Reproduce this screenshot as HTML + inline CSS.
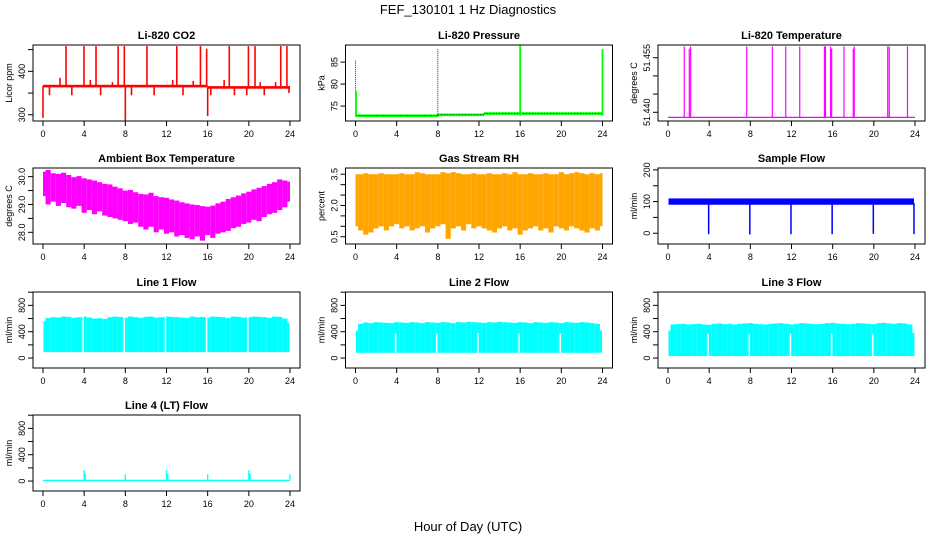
<!DOCTYPE html>
<html><head><meta charset="utf-8"><title>FEF_130101 1 Hz Diagnostics</title>
<style>
html,body{margin:0;padding:0;background:#fff;}
svg{display:block;font-family:"Liberation Sans",Arial,sans-serif;}
</style></head>
<body>
<svg id="chart" width="936" height="540" viewBox="0 0 936 540" xmlns="http://www.w3.org/2000/svg">
<text x="468" y="14" text-anchor="middle" font-size="13">FEF_130101  1 Hz Diagnostics</text>
<text x="468" y="531" text-anchor="middle" font-size="13">Hour of Day (UTC)</text>
</svg>
<script>
const xTicks = [0,4,8,12,16,20,24];

const co2BaseHours = [0,16,16,24];
const co2BaseVals = [366,366,363,363];
const co2SpikeHours = [2.24,3.98,5.15,7.3,7.9,10.1,13.0,15.3,15.9,18.1,19.96,20.6,23.1,23.7,1.65,4.6,6.75,12.6,14.6,17.6,21.1,22.6,0.63,2.8,5.6,8.6,10.8,13.6,16.3,18.6,19.8,21.5,23.9,0.0,8.0,16.0];
const co2SpikeVals = [458,458,458,458,458,458,458,458,452,458,458,458,458,458,385,380,375,380,378,380,375,375,345,345,345,345,345,345,345,345,345,345,350,293,287,297];

const presBaseHours = [0,8,12.5,24];
const presBaseVals = [72.8,73.0,73.3,73.3];
const presSpikeHours = [0.0,0.05,8.0,16.0,24.0];
const presSpikeVals = [85.5,78.5,88.0,89.0,88.0];

const tempBase = 51.4386;
const tempSpikeHours = [1.58,2.07,2.2,7.65,10.14,11.44,12.8,15.2,15.3,15.8,15.9,17.1,18.0,18.1,21.35,21.5,23.27];
const tempSpikeVals = [51.4581,51.4575,51.4581,51.4581,51.4581,51.4581,51.4581,51.4581,51.4581,51.4581,51.4575,51.4581,51.4575,51.4581,51.4581,51.4581,51.4581];

const ambHi = [30.18,30.24,30.12,30.1,30.14,30.06,29.98,30.02,29.94,29.9,29.86,29.8,29.74,29.72,29.64,29.58,29.5,29.52,29.44,29.38,29.36,29.42,29.3,29.26,29.24,29.18,29.14,29.08,29.04,29.0,28.98,28.94,28.92,28.96,29.04,29.1,29.2,29.26,29.32,29.4,29.46,29.54,29.6,29.66,29.74,29.8,29.9,29.86,29.82];
const ambLo = [29.3,29.0,29.1,28.95,29.05,28.9,28.85,28.95,28.7,28.8,28.65,28.75,28.6,28.55,28.5,28.45,28.4,28.3,28.35,28.2,28.1,28.2,28.0,28.1,27.95,28.0,27.85,27.9,27.8,27.75,27.85,27.7,27.9,27.8,27.95,28.0,28.05,28.15,28.2,28.3,28.35,28.45,28.4,28.55,28.65,28.7,28.8,28.9,29.1];

const rhHi = [3.5,3.5,3.55,3.5,3.5,3.55,3.5,3.5,3.5,3.55,3.5,3.5,3.6,3.55,3.5,3.5,3.5,3.6,3.55,3.6,3.55,3.5,3.5,3.55,3.5,3.5,3.55,3.5,3.5,3.55,3.5,3.6,3.5,3.5,3.55,3.5,3.5,3.55,3.5,3.5,3.6,3.5,3.55,3.6,3.55,3.5,3.55,3.5,3.55];
const rhLo = [1.0,0.8,0.6,0.7,0.9,1.0,0.8,1.0,1.1,0.9,1.0,0.8,0.9,1.0,0.7,0.9,1.0,1.1,0.4,0.9,1.0,0.8,1.1,0.9,1.0,0.9,0.8,0.7,0.9,1.0,0.8,0.9,0.6,0.8,0.9,1.0,0.8,0.9,0.7,1.0,0.9,0.8,1.0,0.9,0.8,0.7,0.9,0.8,1.0];

const sampleLo = 90;
const sampleHi = 110;
const sampleDipHours = [3.95,7.95,11.95,15.95,19.95,23.9];
const sampleDipVals = [-3,-4,-3,-3,-2,-3];

const gapHours = [3.9,7.9,11.9,15.9,19.9];
const l1Lo = 90;
const l1Hi = [560,610,620,615,630,625,610,620,630,615,600,605,595,620,630,625,615,630,620,610,625,630,615,620,630,625,620,615,610,630,620,625,615,630,625,620,610,630,625,615,620,630,625,620,610,630,625,600,540];
const l2Lo = 80;
const l2Hi = [420,520,540,530,545,540,535,530,545,540,535,545,540,530,545,540,535,545,540,530,545,540,550,545,540,535,545,540,550,545,540,535,545,540,530,545,540,535,545,540,530,545,540,535,545,540,530,520,420];
const l2GapTop = [380,380,380,380,380];
const l3Lo = 30;
const l3Hi = [420,510,515,520,510,515,520,510,505,520,525,515,520,510,520,525,530,520,515,510,520,525,530,520,510,520,530,525,520,515,520,530,535,525,520,515,520,530,525,520,515,530,535,525,520,530,525,510,380];
const l3GapTop = [370,370,380,380,370];
const l4Lo = 0;
const l4Hi = 20;
const l4SpikeHours = [4.0,4.12,8.0,12.0,12.12,16.0,20.0,20.12,24.0];
const l4SpikeVals = [165,110,100,165,110,100,165,110,100];

const NS = 'http://www.w3.org/2000/svg';
const svg = document.getElementById('chart');
const colLeft = [33,345.5,658];
const rowTop = [45,168,292,415];
const PW = 267, PH = 76;

function el(tag, attrs, parent){
  const e = document.createElementNS(NS, tag);
  for (const k in attrs) e.setAttribute(k, attrs[k]);
  parent.appendChild(e);
  return e;
}

function panel(c, r, id, title, ylab, ymin, ymax, yticks, ylabels){
  const L = colLeft[c], T = rowTop[r];
  const x = v => L + 10 + (v/24)*247;
  const y = v => T + PH - (v - ymin)/(ymax - ymin)*PH;
  const g = el('g', {}, svg);
  
  
  const cp = el('clipPath', {id: 'clip-' + id}, g);
  el('rect', {x: L, y: T, width: PW, height: PH}, cp);
  const t = el('text', {x: L + PW/2, y: T - 6, 'text-anchor': 'middle', 'font-size': 11, 'font-weight': 'bold'}, g);
  t.textContent = title;
  
  
  const data = el('g', {'clip-path': 'url(#clip-' + id + ')'}, g);
  
  
  const box = el('rect', {x: L, y: T, width: PW, height: PH, fill: 'none', stroke: '#000', 'stroke-width': 1}, g);
  
  
  const xa = el('g', {}, g);
  
  
  el('line', {x1: x(xTicks[0]), x2: x(xTicks[xTicks.length-1]), y1: T+PH, y2: T+PH, stroke: '#000'}, xa);
  xTicks.forEach(v => {
    el('line', {x1: x(v), x2: x(v), y1: T+PH, y2: T+PH+5, stroke: '#000'}, xa);
    const tl = el('text', {x: x(v), y: T+PH+16, 'text-anchor': 'middle', 'font-size': 9}, xa);
    tl.textContent = v;
    
    
  });
  const ya = el('g', {}, g);
  
  
  el('line', {x1: L, x2: L, y1: y(yticks[0]), y2: y(yticks[yticks.length-1]), stroke: '#000'}, ya);
  yticks.forEach((v, i) => {
    el('line', {x1: L-5, x2: L, y1: y(v), y2: y(v), stroke: '#000'}, ya);
    if (ylabels[i]) {
      const tl = el('text', {x: L-8, y: y(v), 'text-anchor': 'middle', 'font-size': 9, transform: 'rotate(-90 ' + (L-8) + ' ' + y(v) + ')'}, ya);
      tl.textContent = ylabels[i];
      
      
    }
  });
  const yl = el('text', {x: L-21, y: T+PH/2, 'text-anchor': 'middle', 'font-size': 9, transform: 'rotate(-90 ' + (L-21) + ' ' + (T+PH/2) + ')'}, g);
  yl.textContent = ylab;
  
  
  return {x, y, g: data};
}

function vline(p, h, v0, v1, color, w, name){
  const l = el('line', {x1: p.x(h), x2: p.x(h), y1: p.y(v0), y2: p.y(v1), stroke: color, 'stroke-width': w}, p.g);
  
  
  return l;
}
function flatBand(p, h0, h1, lo, hi, fill, name){
  const r = el('rect', {x: p.x(h0), y: p.y(hi), width: p.x(h1)-p.x(h0), height: Math.max(1, p.y(lo)-p.y(hi)), fill: fill}, p.g);
  
  
}
function stepBars(p, hi, lo, fill, name, hmin, hmax){
  const n = hi.length;
  for (let i = 0; i < n; i++) {
    const loV = Array.isArray(lo) ? lo[i] : lo;
    const h0 = Math.max(hmin, (i-0.5)*24/(n-1)), h1 = Math.min(hmax, (i+0.5)*24/(n-1));
    flatBand(p, h0, h1, loV, hi[i], fill, name);
  }
}

{
  const p = panel(0,0,'co2','Li-820 CO2','Licor ppm',285.7,460.6,[300,350,400,450],['300','','400','']);
  for (let i = 0; i < co2BaseHours.length-1; i += 2) {
    flatBand(p, co2BaseHours[i], co2BaseHours[i+1], co2BaseVals[i]-3, co2BaseVals[i]+3, '#ff0000', 'co2-baseline');
  }
  co2SpikeHours.forEach((h, i) => {
    const base = h < 16 ? co2BaseVals[0] : co2BaseVals[2];
    vline(p, h, base, co2SpikeVals[i], '#ff0000', 1.6, 'co2-spike');
  });
}
{
  const p = panel(1,0,'pressure','Li-820 Pressure','kPa',71.6,88.9,[75,80,85],['75','80','85']);
  for (let i = 0; i < presBaseHours.length-1; i++) {
    flatBand(p, presBaseHours[i], presBaseHours[i+1], presBaseVals[i]-0.3, presBaseVals[i]+0.3, '#00ff00', 'pressure-baseline');
    const l = el('line', {x1: p.x(presBaseHours[i]), x2: p.x(presBaseHours[i+1]), y1: p.y(presBaseVals[i]), y2: p.y(presBaseVals[i]), stroke: '#000', 'stroke-width': 0.6, 'stroke-dasharray': '1 2'}, p.g);
    
    
  }
  presSpikeHours.forEach((h, i) => {
    const base = presBaseVals[0];
    const black = (i === 0 || i === 2);
    const l = vline(p, h, base, presSpikeVals[i], black ? '#000' : '#00ff00', black ? 0.8 : 1.8, 'pressure-spike');
    if (black) l.setAttribute('stroke-dasharray', '1 1');
  });
}
{
  const p = panel(2,0,'li820-temp','Li-820 Temperature','degrees C',51.4376,51.4585,[51.440,51.445,51.450,51.455],['51.440','','','51.455']);
  const l = el('line', {x1: p.x(0), x2: p.x(24), y1: p.y(tempBase), y2: p.y(tempBase), stroke: '#ff00ff', 'stroke-width': 1.2}, p.g);
  
  
  tempSpikeHours.forEach((h, i) => vline(p, h, tempBase, tempSpikeVals[i], '#ff00ff', 1.2, 'temp-spike'));
}
{
  const p = panel(0,1,'ambient','Ambient Box Temperature','degrees C',27.58,30.31,[28,28.5,29,29.5,30],['28.0','','29.0','','30.0']);
  stepBars(p, ambHi, ambLo, '#ff00ff', 'ambient-bar', 0, 24);
}
{
  const p = panel(1,1,'rh','Gas Stream RH','percent',0.15,3.80,[0.5,1,1.5,2,2.5,3,3.5],['0.5','','','2.0','','','3.5']);
  stepBars(p, rhHi, rhLo, '#ffa500', 'rh-bar', 0, 24);
}
{
  const p = panel(2,1,'sample-flow','Sample Flow','ml/min',-34,206,[0,50,100,150,200],['0','','100','','200']);
  flatBand(p, 0.05, 23.9, sampleLo, sampleHi, '#0000ff', 'sample-flow-band');
  sampleDipHours.forEach((h, i) => vline(p, h, 95, sampleDipVals[i], '#0000ff', 1.5, 'sample-flow-dip'));
}
function lineFlow(c, r, id, title, hi, lo, gapTop){
  const p = panel(c,r,id,title,'ml/min',-151,1003,[0,200,400,600,800,1000],['0','','400','','800','']);
  stepBars(p, hi, lo, '#00ffff', id + '-bar', 0.05, 23.95);
  gapHours.forEach((h, i) => vline(p, h, lo - 5, gapTop ? gapTop[i] : 700, '#ffffff', 1.5, id + '-gap'));
}
lineFlow(0,2,'line1-flow','Line 1 Flow', l1Hi, l1Lo, null);
lineFlow(1,2,'line2-flow','Line 2 Flow', l2Hi, l2Lo, l2GapTop);
lineFlow(2,2,'line3-flow','Line 3 Flow', l3Hi, l3Lo, l3GapTop);
{
  const p = panel(0,3,'line4-flow','Line 4 (LT) Flow','ml/min',-151,1003,[0,200,400,600,800,1000],['0','','400','','800','']);
  flatBand(p, 0, 24, l4Lo, l4Hi, '#00ffff', 'line4-baseline');
  l4SpikeHours.forEach((h, i) => vline(p, h, l4Hi, l4SpikeVals[i], '#00ffff', 1.3, 'line4-spike'));
}
</script>
</body></html>
